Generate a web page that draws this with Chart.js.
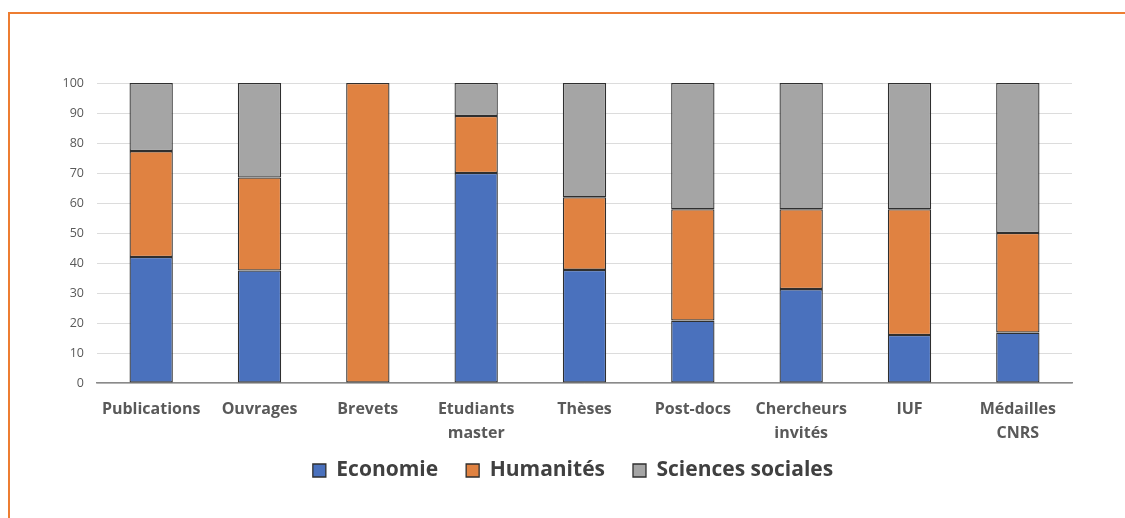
<!DOCTYPE html>
<html>
<head>
<meta charset="utf-8">
<script src="https://cdn.jsdelivr.net/npm/chart.js@4"></script>
<style>
  html, body { margin: 0; padding: 0; background: #fff; overflow: hidden; }
  #frame { position: absolute; left: 8px; top: 12px; width: 1200px; height: 600px; border: 2px solid #ED7D31; }
  #wrap { position: absolute; left: 0; top: 0; width: 1125px; height: 518px; }
</style>
</head>
<body>
<div id="frame"></div>
<div id="wrap"><canvas id="chart"></canvas></div>
<script>
const categories = ["Publications", "Ouvrages", "Brevets", ["Etudiants", "master"], "Thèses",
    "Post-docs", ["Chercheurs", "invités"], "IUF", ["Médailles", "CNRS"]];
const economie = [42, 37.5, 0, 70, 37.7, 20.8, 31.3, 16, 16.8];
const humanites = [35.3, 31, 100, 19, 24.2, 37.1, 26.6, 41.9, 33.2];
const sciencesSociales = [22.7, 31.5, 0, 11, 38.1, 42.1, 42.1, 42.1, 50];
const yTicks = [0, 10, 20, 30, 40, 50, 60, 70, 80, 90, 100];

const font = "'Open Sans', sans-serif";

function ds(label, data, color) {
    return {
        label: label,
        data: data,
        backgroundColor: color,
        borderColor: "#2f2f2f",
        borderWidth: 1.3,
        borderSkipped: false,
        barPercentage: 0.4,
        categoryPercentage: 1
    };
}

const ctx = document.getElementById("chart").getContext("2d");
const chart = new Chart(ctx, {
    type: "bar",
    data: {
        labels: categories,
        datasets: [
            ds("Economie", economie, "#4A71BD"),
            ds("Humanités", humanites, "#E08241"),
            ds("Sciences sociales", sciencesSociales, "#A5A5A5")
        ]
    },
    options: {
        responsive: true,
        maintainAspectRatio: false,
        animation: false,
        // left padding pushes the centred legend right; y axis is narrowed to match
        layout: { padding: { top: 83, right: 53, bottom: 27, left: 74 } },
        scales: {
            x: {
                stacked: true,
                grid: { display: false, drawTicks: false },
                border: { display: true, color: "#8a8a8a", width: 1.5 },
                ticks: {
                    color: "#595959",
                    font: { family: font, size: 16, weight: "bold", lineHeight: 1.5 },
                    padding: 14,
                    maxRotation: 0,
                    autoSkip: false
                },
                afterFit: (scale) => {
                    // labels run into the legend area, so don't clip them to the axis box
                    scale.height = 49;
                    scale._computeLabelArea = () => null;
                }
            },
            y: {
                stacked: true,
                min: 0,
                max: 100,
                afterBuildTicks: (scale) => { scale.ticks = yTicks.map(v => ({ value: v })); },
                grid: { color: "#dcdcdc", lineWidth: 1, drawTicks: false },
                border: { display: false },
                ticks: {
                    color: "#595959",
                    font: { family: font, size: 12.5 },
                    padding: 13
                },
                afterFit: (scale) => {
                    scale.width = 23;
                    scale._computeLabelArea = () => null;
                }
            }
        },
        plugins: {
            tooltip: { enabled: false },
            legend: {
                position: "bottom",
                labels: {
                    color: "#404040",
                    font: { family: font, size: 21, weight: "bold" },
                    boxWidth: 13,
                    boxHeight: 13,
                    padding: 28,
                    useBorderRadius: false
                }
            }
        }
    }
});
</script>
</body>
</html>
